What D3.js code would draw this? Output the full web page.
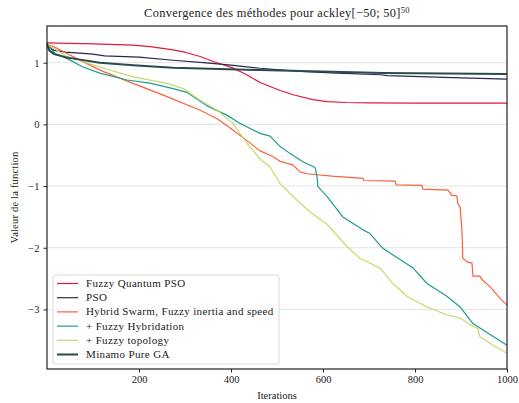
<!DOCTYPE html>
<html>
<head>
<meta charset="utf-8">
<script src="https://cdn.jsdelivr.net/npm/d3@7"></script>
<style>
  html, body { margin: 0; padding: 0; background: #fff; }
  svg { display: block; }
  text { font-family: "Liberation Serif", "DejaVu Serif", serif; fill: #222; }
</style>
</head>
<body>
<svg id="chart" width="519" height="403"></svg>
<script>
// Best value of the ackley function per iteration, as [iteration, log10 value]
const fuzzyQuantumPSO = [[0,1.32],[100,1.305],[187,1.285],[224,1.26],[267,1.215],[300,1.17],[333,1.1],[361,1.02],[402,0.92],[430,0.82],[463,0.68],[507,0.55],[535,0.48],[578,0.40],[609,0.37],[650,0.355],[700,0.35],[800,0.345],[1000,0.345]];
const pso = [[0,1.32],[5,1.25],[15,1.2],[40,1.17],[100,1.14],[125,1.11],[200,1.09],[274,1.04],[340,1.0],[400,0.96],[463,0.91],[550,0.86],[630,0.83],[725,0.805],[740,0.79],[900,0.755],[1000,0.735]];
const hybridSwarm = [[0,1.3],[20,1.24],[43,1.15],[115,0.88],[187,0.665],[261,0.45],[333,0.23],[370,0.09],[404,-0.09],[441,-0.30],[463,-0.43],[491,-0.52],[507,-0.6],[535,-0.66],[550,-0.77],[565,-0.8],[620,-0.84],[687,-0.875],[689,-0.91],[757,-0.92],[759,-0.98],[815,-0.99],[817,-1.05],[872,-1.065],[880,-1.15],[891,-1.16],[893,-1.28],[898,-1.34],[902,-1.71],[904,-2.17],[913,-2.23],[924,-2.25],[926,-2.46],[941,-2.46],[946,-2.52],[963,-2.63],[985,-2.82],[1000,-2.93]];
const fuzzyHybridation = [[0,1.3],[17,1.15],[43,1.07],[78,0.93],[115,0.83],[174,0.72],[224,0.67],[274,0.58],[304,0.52],[348,0.3],[391,0.15],[420,0.016],[448,-0.09],[463,-0.146],[485,-0.19],[507,-0.36],[528,-0.47],[557,-0.61],[583,-0.70],[587,-0.85],[589,-1.01],[609,-1.17],[643,-1.50],[687,-1.71],[702,-1.77],[730,-2.01],[796,-2.33],[826,-2.58],[870,-2.79],[898,-2.96],[926,-3.23],[970,-3.44],[1000,-3.58]];
const fuzzyTopology = [[0,1.3],[43,1.1],[115,0.93],[187,0.77],[261,0.665],[296,0.58],[333,0.39],[370,0.23],[404,0.016],[435,-0.31],[463,-0.56],[485,-0.69],[507,-0.96],[535,-1.17],[572,-1.42],[609,-1.62],[652,-1.98],[680,-2.17],[724,-2.33],[752,-2.58],[783,-2.79],[826,-2.96],[870,-3.09],[898,-3.14],[920,-3.25],[937,-3.31],[941,-3.44],[970,-3.58],[1000,-3.71]];
const minamoPureGA = [[0,1.3],[5,1.2],[15,1.14],[40,1.09],[72,1.05],[115,1.0],[187,0.96],[274,0.92],[463,0.88],[732,0.835],[1000,0.815]];

const seriesNames = ["Fuzzy Quantum PSO", "PSO", "Hybrid Swarm, Fuzzy inertia and speed", "+ Fuzzy Hybridation", "+ Fuzzy topology", "Minamo Pure GA"];
const seriesData = [fuzzyQuantumPSO, pso, hybridSwarm, fuzzyHybridation, fuzzyTopology, minamoPureGA];
const seriesColors = ["#e31a39", "#2a2752", "#f9603c", "#1e9c8e", "#c7d96a", "#2b4a4a"];
const seriesWidths = [1.2, 1.2, 1.2, 1.2, 1.2, 2];

const xTicks = [200, 400, 600, 800, 1000];
const yTicks = [-3, -2, -1, 0, 1];

const margin = { left: 47, right: 12, top: 26, bottom: 34 };
const width = 519, height = 403;
const svg = d3.select("#chart");

const x = d3.scaleLinear().domain([0, 1000]).range([margin.left, width - margin.right]);
const y = d3.scaleLinear().domain([-3.966, 1.595]).range([height - margin.bottom, margin.top]);

// horizontal grid
svg.append("g")
  .selectAll("line").data(yTicks).join("line")
  .attr("x1", x(0)).attr("x2", x(1000))
  .attr("y1", d => y(d)).attr("y2", d => y(d))
  .attr("stroke", "#e3e3e3").attr("stroke-width", 1);

// series
const line = d3.line().x(d => x(d[0])).y(d => y(d[1]));
const plot = svg.append("g");
seriesData.forEach((data, i) => {
  plot.append("path")
    .datum(data)
    .attr("d", line)
    .attr("fill", "none")
    .attr("stroke", seriesColors[i])
    .attr("stroke-width", seriesWidths[i])
    .attr("stroke-linejoin", "round");
});

// axes
const fmt = d => d < 0 ? "\u2212" + Math.abs(d) : String(d);
const xAxis = svg.append("g")
  .attr("transform", `translate(0,${height - margin.bottom})`)
  .call(d3.axisBottom(x).tickValues(xTicks).tickSize(3.5).tickPadding(3).tickFormat(fmt));
const yAxis = svg.append("g")
  .attr("transform", `translate(${margin.left},0)`)
  .call(d3.axisLeft(y).tickValues(yTicks).tickSize(3.5).tickPadding(4).tickFormat(fmt));
[xAxis, yAxis].forEach(g => {
  g.select(".domain").remove();
  g.selectAll(".tick line").attr("stroke", "#222");
  g.selectAll(".tick text").style("font-family", '"Liberation Serif", serif').style("font-size", "10.5px").attr("fill", "#222");
});

// frame
svg.append("rect")
  .attr("x", x(0)).attr("y", y(1.595))
  .attr("width", x(1000) - x(0)).attr("height", y(-3.966) - y(1.595))
  .attr("fill", "none").attr("stroke", "#222").attr("stroke-width", 1.2);

// title
const title = svg.append("text")
  .attr("x", (x(0) + x(1000)) / 2).attr("y", 17)
  .attr("text-anchor", "middle").style("font-size", "12.4px").style("letter-spacing", "0.3px");
title.append("tspan").text("Convergence des méthodes pour ackley[\u221250; 50]");
title.append("tspan").attr("dy", -4).style("font-size", "8.5px").text("50");

// axis labels
svg.append("text")
  .attr("x", (x(0) + x(1000)) / 2).attr("y", 399)
  .attr("text-anchor", "middle").style("font-size", "10.5px").text("Iterations");
svg.append("text")
  .attr("transform", `translate(18,${(y(1.595) + y(-3.966)) / 2}) rotate(-90)`)
  .attr("text-anchor", "middle").style("font-size", "10.5px").style("letter-spacing", "0.2px").text("Valeur de la function");

// legend
const legend = svg.append("g");
legend.append("rect")
  .attr("x", 53).attr("y", 275).attr("width", 226).attr("height", 89)
  .attr("rx", 2).attr("fill", "#fff").attr("fill-opacity", 0.85)
  .attr("stroke", "#d8d8d8").attr("stroke-width", 1);
seriesNames.forEach((name, i) => {
  const yy = 283.5 + i * 14.2;
  legend.append("line")
    .attr("x1", 57).attr("x2", 78).attr("y1", yy).attr("y2", yy)
    .attr("stroke", seriesColors[i]).attr("stroke-width", seriesWidths[i]);
  legend.append("text")
    .attr("x", 86).attr("y", yy + 3.5)
    .style("font-size", "11px").style("letter-spacing", "0.35px").text(name);
});
</script>
</body>
</html>
